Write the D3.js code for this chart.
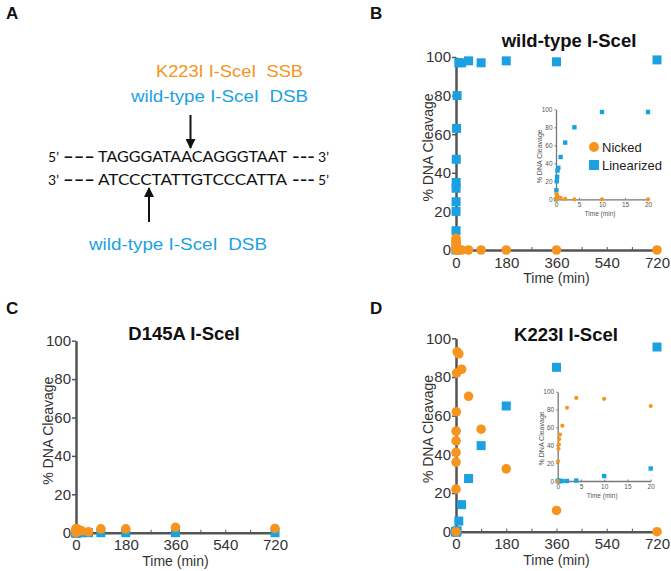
<!DOCTYPE html>
<html><head><meta charset="utf-8">
<script src="https://cdn.jsdelivr.net/npm/d3@7"></script>
<style>body{margin:0;background:#fff}svg{display:block}text{white-space:pre}</style>
</head><body>
<svg id="c" width="671" height="571"></svg>
<script>
// ---- data ----
const times = [0, 0.083, 0.167, 0.25, 0.333, 0.5, 1, 2, 4, 10, 20, 45, 90, 180, 360, 720];
const wtNicked   = [0, 6, 5, 4, 3, 2, 1.5, 0.5, 0, 0, 0, 0, 0, 0, 0, 0];
const wtLinear   = [0, 10, 20, 25, 32, 35, 47, 63, 80, 97, 97, 98, 97, 98, 97.5, 98.5];
const d145Nicked = [0, 1.5, 2, 1.5, 2, 1.5, 2, 1.5, 2, 1.5, 1, 0.5, 2, 2, 2.8, 2.2];
const d145Linear = [0, 0, 0, 0, 0, 0, 0, 0, 0, 0, 0, 0, 0, 0, 0, 0];
const k223Nicked = [0, 22, 36, 41, 47, 52, 62, 82, 93, 92, 84, 70, 53, 32.5, 11, 0];
const k223Linear = [0, 0, 0, 0, 0, 0, 0, 0, 0.5, 5.5, 14, 27.5, 44.5, 65, 85, 95.5];
const xTicksMain = [0, 180, 360, 540, 720];
const xMinorMain = [90, 180, 270, 360, 450, 540, 630, 720];
const yTicks = [0, 20, 40, 60, 80, 100];
const xTicksInset = [0, 5, 10, 15, 20];
const seriesNames = ["Nicked", "Linearized"];

const ORANGE = "#F7941D", BLUE = "#1BA1E2", AXIS = "#555";
const FONT = "'Liberation Sans', Arial, sans-serif";
const svg = d3.select("#c").style("font-family", FONT);

function zip(v) { return times.map((t, i) => ({t, v: v[i]})); }

function mainPanel(o) {
  const x = d3.scaleLinear().domain([0, 720]).range([o.x0, o.x1]);
  const y = d3.scaleLinear().domain([0, 100]).range([o.y0, o.y1]);
  const g = svg.append("g");
  // minor ticks
  g.append("g").attr("transform", `translate(0,${o.y0})`)
    .call(d3.axisBottom(x).tickValues(xMinorMain).tickSize(-3).tickFormat(""))
    .call(a => a.select(".domain").remove())
    .selectAll("line").attr("stroke", AXIS).attr("stroke-width", 1);
  g.append("g").attr("transform", `translate(${o.x0},0)`)
    .call(d3.axisLeft(y).tickValues(yTicks).tickSize(4).tickFormat(""))
    .call(a => a.select(".domain").remove())
    .selectAll("line").attr("stroke", AXIS).attr("stroke-width", 1.5);
  const xa = g.append("g").attr("transform", `translate(0,${o.y0})`)
    .call(d3.axisBottom(x).tickValues(xTicksMain).tickSize(0).tickSizeOuter(0).tickPadding(7));
  const ya = g.append("g").attr("transform", `translate(${o.x0},0)`)
    .call(d3.axisLeft(y).tickValues(yTicks).tickSize(0).tickSizeOuter(0).tickPadding(5));
  [xa, ya].forEach(a => {
    a.select(".domain").attr("stroke", AXIS).attr("stroke-width", 2.5);
    a.selectAll("text").attr("font-size", 15).attr("fill", "#333").attr("font-family", FONT);
  });
  g.append("text").attr("x", (o.x0 + o.x1) / 2).attr("y", o.y0 + 33)
    .attr("text-anchor", "middle").attr("font-size", 14).attr("fill", "#333").text("Time (min)");
  g.append("text").attr("transform", `translate(${o.x0 - 23},${(o.y0 + o.y1) / 2 - 6}) rotate(-90)`)
    .attr("text-anchor", "middle").attr("font-size", 14).attr("fill", "#333").text("% DNA Cleavage");
  g.append("text").attr("x", o.tx).attr("y", o.ty).attr("text-anchor", "middle")
    .attr("font-size", 18.5).attr("font-weight", "bold").attr("fill", "#111").text(o.title);
  // points
  g.append("g").selectAll("rect").data(zip(o.linear)).join("rect")
    .attr("x", d => x(d.t) - 4.5).attr("y", d => y(d.v) - 4.5)
    .attr("width", 9).attr("height", 9).attr("fill", BLUE);
  g.append("g").selectAll("circle").data(zip(o.nicked)).join("circle")
    .attr("cx", d => x(d.t)).attr("cy", d => y(d.v)).attr("r", 4.8).attr("fill", ORANGE);
}

function inset(o) {
  const sub = times.map((t, i) => i).filter(i => times[i] <= 20);
  const x = d3.scaleLinear().domain([0, 20]).range([o.x0, o.x1]);
  const y = d3.scaleLinear().domain([0, 100]).range([o.y0, o.y1]);
  const g = svg.append("g");
  const xa = g.append("g").attr("transform", `translate(0,${o.y0})`)
    .call(d3.axisBottom(x).tickValues(xTicksInset).tickSize(-1.5).tickSizeOuter(0).tickPadding(3));
  const ya = g.append("g").attr("transform", `translate(${o.x0},0)`)
    .call(d3.axisLeft(y).tickValues(yTicks).tickSize(1.5).tickSizeOuter(0).tickPadding(2));
  [xa, ya].forEach(a => {
    a.select(".domain").attr("stroke", "#777").attr("stroke-width", 1.3);
    a.selectAll("line").attr("stroke", "#777");
    a.selectAll("text").attr("font-size", 6.5).attr("fill", "#555").attr("font-family", FONT);
  });
  g.append("text").attr("x", (o.x0 + o.x1) / 2 - 2).attr("y", o.y0 + 17)
    .attr("text-anchor", "middle").attr("font-size", 6.5).attr("fill", "#555").text("Time (min)");
  g.append("text").attr("transform", `translate(${o.x0 - 14},${(o.y0 + o.y1) / 2 + 2}) rotate(-90)`)
    .attr("text-anchor", "middle").attr("font-size", 7).attr("fill", "#555").text("% DNA Cleavage");
  g.append("g").selectAll("rect").data(sub.map(i => ({t: times[i], v: o.linear[i]}))).join("rect")
    .attr("x", d => x(d.t) - 2.2).attr("y", d => y(d.v) - 2.2)
    .attr("width", 4.4).attr("height", 4.4).attr("fill", BLUE);
  g.append("g").selectAll("circle").data(sub.map(i => ({t: times[i], v: o.nicked[i]}))).join("circle")
    .attr("cx", d => x(d.t)).attr("cy", d => y(d.v)).attr("r", 2.1).attr("fill", ORANGE);
}

// Panel letters
[["A", 6, 19], ["B", 370, 19], ["C", 6, 314], ["D", 370, 314]].forEach(([t, x, y]) =>
  svg.append("text").attr("x", x).attr("y", y).attr("font-size", 17).attr("font-weight", "bold")
    .attr("fill", "#111").text(t));

// Panel A
const A = svg.append("g");
A.append("text").attr("x", 156).attr("y", 77).attr("font-size", 17).attr("fill", ORANGE)
  .attr("textLength", 147).attr("lengthAdjust", "spacingAndGlyphs").text("K223I I-SceI  SSB");
A.append("text").attr("x", 131).attr("y", 102).attr("font-size", 17).attr("fill", BLUE)
  .attr("textLength", 177).attr("lengthAdjust", "spacingAndGlyphs").text("wild-type I-SceI  DSB");
A.append("text").attr("x", 89).attr("y", 250).attr("font-size", 17).attr("fill", BLUE)
  .attr("textLength", 178).attr("lengthAdjust", "spacingAndGlyphs").text("wild-type I-SceI  DSB");
const seqFont = "Lato, 'Open Sans', sans-serif";
[[162, "5’", "TAGGGATAACAGGGTAAT", "3’"], [185, "3’", "ATCCCTATTGTCCCATTA", "5’"]].forEach(([yy, l, s, r]) => {
  A.append("text").attr("x", 48).attr("y", yy).attr("font-size", 14).attr("font-family", seqFont).attr("fill", "#111").text(l);
  A.append("text").attr("x", 98).attr("y", yy).attr("font-size", 15).attr("font-family", seqFont).attr("fill", "#111")
    .attr("textLength", 189).attr("lengthAdjust", "spacingAndGlyphs").text(s);
  A.append("text").attr("x", 318).attr("y", yy).attr("font-size", 14).attr("font-family", seqFont).attr("fill", "#111").text(r);
  [[63, 95], [292, 315]].forEach(([a, b]) => {
    A.append("text").attr("x", a).attr("y", yy).attr("font-size", 15).attr("font-weight", "bold")
      .attr("font-family", seqFont).attr("fill", "#111")
      .attr("textLength", b - a).attr("lengthAdjust", "spacingAndGlyphs").text("---");
  });
});
const defs = svg.append("defs");
defs.append("marker").attr("id", "ah").attr("viewBox", "0 0 10 10").attr("refX", 9).attr("refY", 5)
  .attr("markerWidth", 5).attr("markerHeight", 5).attr("orient", "auto")
  .append("path").attr("d", "M0,0L10,5L0,10Z").attr("fill", "#111");
A.append("line").attr("x1", 190.5).attr("y1", 115).attr("x2", 190.5).attr("y2", 148)
  .attr("stroke", "#111").attr("stroke-width", 2).attr("marker-end", "url(#ah)");
A.append("line").attr("x1", 149).attr("y1", 222).attr("x2", 149).attr("y2", 188)
  .attr("stroke", "#111").attr("stroke-width", 2).attr("marker-end", "url(#ah)");

// Panels B, C, D
mainPanel({x0: 456, x1: 657, y0: 250, y1: 57, title: "wild-type I-SceI", tx: 569, ty: 47,
  nicked: wtNicked, linear: wtLinear});
inset({x0: 556, x1: 648, y0: 199.3, y1: 109.3, nicked: wtNicked, linear: wtLinear});
// legend
const L = svg.append("g");
L.append("circle").attr("cx", 594).attr("cy", 147).attr("r", 5).attr("fill", ORANGE);
L.append("rect").attr("x", 589).attr("y", 160).attr("width", 10).attr("height", 10).attr("fill", BLUE);
L.selectAll("text").data(seriesNames).join("text").attr("x", 602).attr("y", (d, i) => 152 + i * 18)
  .attr("font-size", 13).attr("fill", "#222").text(d => d);

mainPanel({x0: 76, x1: 275, y0: 532.7, y1: 340.7, title: "D145A I-SceI", tx: 184, ty: 340,
  nicked: d145Nicked, linear: d145Linear});
mainPanel({x0: 456, x1: 657, y0: 531.7, y1: 338.3, title: "K223I I-SceI", tx: 566, ty: 340.5,
  nicked: k223Nicked, linear: k223Linear});
inset({x0: 557.7, x1: 650.7, y0: 481, y1: 391.7, nicked: k223Nicked, linear: k223Linear});
</script>
</body></html>
